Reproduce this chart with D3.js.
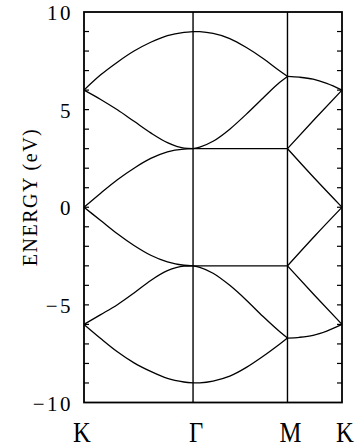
<!DOCTYPE html>
<html>
<head>
<meta charset="utf-8">
<script src="https://cdn.jsdelivr.net/npm/d3@7"></script>
<style>
  html, body { margin: 0; padding: 0; background: #fff; }
  svg { display: block; }
</style>
</head>
<body>
<svg id="chart" width="356" height="448"></svg>
<script>
// High-symmetry points along the k-path (distance in units of |KΓ|)
const pathLabels = ["K", "Γ", "M", "K"];
const pathPos = [0, 1, 1.866, 2.366];
const energyTicks = [-10, -5, 0, 5, 10];

// K → Γ  (fraction along the segment, energies in eV)
const fracKG = [0, 0.153, 0.306, 0.459, 0.612, 0.765, 0.917, 1];
const kgBand1 = [6.0, 6.78, 7.43, 8.0, 8.45, 8.79, 8.96, 9.0];
const kgBand2 = [6.0, 5.52, 4.99, 4.4, 3.81, 3.31, 3.03, 3.0];
const kgBand3 = [0, 0.72, 1.41, 2.0, 2.5, 2.84, 2.98, 3.0];
const kgBand4 = [0, -0.68, -1.36, -1.96, -2.46, -2.8, -2.97, -3.0];
const kgBand5 = [-6.0, -5.5, -4.99, -4.39, -3.75, -3.25, -3.02, -3.0];
const kgBand6 = [-6.0, -6.72, -7.4, -7.97, -8.41, -8.77, -8.95, -9.0];

// Γ → M
const fracGM = [0, 0.071, 0.212, 0.389, 0.565, 0.742, 0.919, 1];
const gmBand1 = [9.0, 8.99, 8.9, 8.64, 8.18, 7.62, 6.98, 6.7];
const gmBand2 = [3.0, 3.08, 3.38, 4.0, 4.77, 5.6, 6.4, 6.7];
const gmBand5 = [-3.0, -3.08, -3.38, -4.0, -4.76, -5.6, -6.38, -6.7];
const gmBand6 = [-9.0, -8.99, -8.9, -8.65, -8.2, -7.63, -7.0, -6.7];
const fracGMFlat = [0, 1];
const gmFlatUp = [3.0, 3.0];
const gmFlatDown = [-3.0, -3.0];

// M → K
const fracMK = [0, 0.22, 0.47, 0.72, 1];
const mkBand1 = [6.7, 6.66, 6.56, 6.34, 6.0];
const mkBand6 = [-6.7, -6.66, -6.56, -6.34, -6.0];
const fracMKLine = [0, 0.5, 1];
const mkBand2 = [3.0, 4.52, 6.0];
const mkBand3 = [3.0, 1.47, 0];
const mkBand4 = [-3.0, -1.47, 0];
const mkBand5 = [-3.0, -4.52, -6.0];

const segments = [
  [0, fracKG, kgBand1], [0, fracKG, kgBand2], [0, fracKG, kgBand3],
  [0, fracKG, kgBand4], [0, fracKG, kgBand5], [0, fracKG, kgBand6],
  [1, fracGM, gmBand1], [1, fracGM, gmBand2], [1, fracGM, gmBand5],
  [1, fracGM, gmBand6], [1, fracGMFlat, gmFlatUp], [1, fracGMFlat, gmFlatDown],
  [2, fracMK, mkBand1], [2, fracMK, mkBand6],
  [2, fracMKLine, mkBand2], [2, fracMKLine, mkBand3],
  [2, fracMKLine, mkBand4], [2, fracMKLine, mkBand5]
];

const svg = d3.select("#chart");
const plotLeft = 84, plotRight = 342, plotTop = 12, plotBottom = 402.5;

const x = d3.scaleLinear().domain([pathPos[0], pathPos[3]]).range([plotLeft, plotRight]);
const y = d3.scaleLinear().domain([-10, 10]).range([plotBottom, plotTop]);

const line = d3.line()
  .x(d => x(d[0]))
  .y(d => y(d[1]))
  .curve(d3.curveMonotoneX);

// band curves
const bandG = svg.append("g")
  .attr("fill", "none")
  .attr("stroke", "#000")
  .attr("stroke-width", 1.3)
  .attr("stroke-linejoin", "round");

segments.forEach(([seg, fr, en]) => {
  const k0 = pathPos[seg], k1 = pathPos[seg + 1];
  const pts = fr.map((f, i) => [k0 + f * (k1 - k0), en[i]]);
  bandG.append("path").attr("d", line(pts));
});

// vertical lines at the interior symmetry points
svg.append("g")
  .selectAll("line")
  .data(pathPos.slice(1, 3))
  .join("line")
  .attr("x1", d => x(d)).attr("x2", d => x(d))
  .attr("y1", plotTop).attr("y2", plotBottom)
  .attr("stroke", "#000")
  .attr("stroke-width", 1.4);

// frame
svg.append("rect")
  .attr("x", plotLeft).attr("y", plotTop)
  .attr("width", plotRight - plotLeft).attr("height", plotBottom - plotTop)
  .attr("fill", "none")
  .attr("stroke", "#000")
  .attr("stroke-width", 1.8);

// inward minor ticks every 1 eV on both energy axes
const minor = y.ticks(20).filter(v => v > -10 && v < 10);
const tickG = svg.append("g").attr("stroke", "#000").attr("stroke-width", 1.2);
tickG.selectAll("line.l")
  .data(minor).join("line").attr("class", "l")
  .attr("x1", plotLeft).attr("x2", plotLeft + 5)
  .attr("y1", d => y(d)).attr("y2", d => y(d));
tickG.selectAll("line.r")
  .data(minor).join("line").attr("class", "r")
  .attr("x1", plotRight - 5).attr("x2", plotRight)
  .attr("y1", d => y(d)).attr("y2", d => y(d));

// energy tick labels
svg.append("g")
  .selectAll("text")
  .data(energyTicks)
  .join("text")
  .attr("x", 73)
  .attr("y", d => y(d) + 1)
  .attr("text-anchor", "end")
  .attr("dominant-baseline", "central")
  .attr("font-family", "'Liberation Serif', 'DejaVu Serif', serif")
  .attr("font-size", 21)
  .attr("letter-spacing", 2.5)
  .text(d => d < 0 ? "\u2212" + Math.abs(d) : String(d));

// axis title
svg.append("text")
  .attr("transform", "translate(37,197) rotate(-90)")
  .attr("text-anchor", "middle")
  .attr("font-family", "'Liberation Serif', 'DejaVu Serif', serif")
  .attr("font-size", 20)
  .attr("letter-spacing", 1.5)
  .text("ENERGY (eV)");

// symmetry-point labels
svg.append("g")
  .selectAll("text")
  .data(pathLabels)
  .join("text")
  .attr("transform", (d, i) => `translate(${x(pathPos[i]) + (i === 0 ? -2 : 3)},442) scale(0.85,1)`)
  .attr("text-anchor", "middle")
  .attr("font-family", "'Liberation Serif', 'DejaVu Serif', serif")
  .attr("font-size", 29)
  .text(d => d);
</script>
</body>
</html>
